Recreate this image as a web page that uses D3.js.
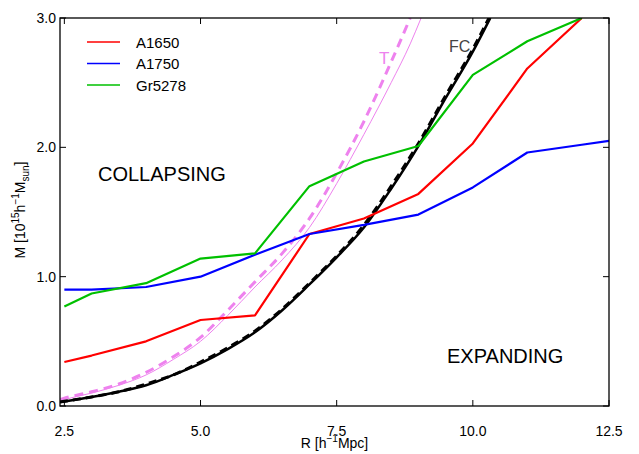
<!DOCTYPE html>
<html>
<head>
<meta charset="utf-8">
<script src="https://cdn.jsdelivr.net/npm/d3@7"></script>
<style>
  body { margin: 0; background: #fff; }
  text { font-family: "Liberation Sans", Arial, sans-serif; }
</style>
</head>
<body>
<div id="app"></div>
<script>
// R values of the cluster profiles
const clusterR = [2.5, 3, 4, 5, 6, 7, 8, 9, 10, 11, 12, 12.5]
// mass profiles [10^15 h^-1 Msun]
const a1650 = [0.34, 0.39, 0.50, 0.665, 0.70, 1.33, 1.45, 1.64, 2.03, 2.61, 3.0, null]
const a1750 = [0.90, 0.90, 0.92, 1.0, 1.17, 1.33, 1.40, 1.48, 1.69, 1.96, 2.02, 2.05]
const gr5278 = [0.77, 0.87, 0.95, 1.14, 1.18, 1.70, 1.89, 2.01, 2.56, 2.82, 3.0, null]

// FC and T model curves
const fcR = [2.42, 2.5, 3, 3.5, 4, 4.5, 5, 5.5, 6, 6.5, 7, 7.5, 8, 8.5, 9, 9.5, 10, 10.32]
const fcSolid = [0.03, 0.035, 0.07, 0.11, 0.16, 0.24, 0.33, 0.44, 0.57, 0.74, 0.94, 1.15, 1.38, 1.68, 2.01, 2.38, 2.74, 3.0]
const fcDashed = [0.03, 0.036, 0.07, 0.11, 0.17, 0.24, 0.34, 0.45, 0.58, 0.75, 0.95, 1.16, 1.40, 1.70, 2.03, 2.40, 2.76, 3.02]
const tR = [2.42, 2.5, 3, 3.5, 4, 4.5, 5, 5.5, 6, 6.5, 7, 7.5, 8, 8.5, 8.85, 9.05]
const tDashed = [0.05, 0.06, 0.11, 0.17, 0.26, 0.38, 0.53, 0.74, 0.96, 1.18, 1.45, 1.80, 2.20, 2.66, 3.0, null]
const tThin = [0.04, 0.05, 0.10, 0.16, 0.24, 0.36, 0.50, 0.70, 0.92, 1.13, 1.38, 1.72, 2.10, 2.50, 2.80, 3.0]

const xTicks = [2.5, 5.0, 7.5, 10.0, 12.5]
const yTicks = [0.0, 1.0, 2.0, 3.0]
const legendNames = ['A1650', 'A1750', 'Gr5278']
const seriesColors = ['#ff0000', '#0000ff', '#00c000']

async function main() {
  const width = 639
  const height = 454
  const left = 60, right = 609, top = 18, bottom = 406

  const svg = d3.select('#app')
    .append('svg')
    .attr('width', width)
    .attr('height', height)

  // scales
  const x = d3.scaleLinear().domain([2.42, 12.5]).range([left, right])
  const y = d3.scaleLinear().domain([0, 3]).range([bottom, top])

  // clip lines to the axes box
  svg.append('clipPath').attr('id', 'clip')
    .append('rect')
    .attr('x', left).attr('y', top)
    .attr('width', right - left).attr('height', bottom - top)

  const plot = svg.append('g').attr('clip-path', 'url(#clip)')

  const line = (xs, ys) => d3.line()
    .defined((d, i) => ys[i] != null)
    .x((d, i) => x(xs[i]))
    .y((d, i) => y(ys[i]))(xs)

  const smooth = (xs, ys) => d3.line()
    .defined((d, i) => ys[i] != null)
    .curve(d3.curveMonotoneX)
    .x((d, i) => x(xs[i]))
    .y((d, i) => y(ys[i]))(xs)

  // T curves (violet)
  plot.append('path')
    .attr('d', smooth(tR, tThin))
    .attr('fill', 'none')
    .attr('stroke', '#ee82ee')
    .attr('stroke-width', 1)
  plot.append('path')
    .attr('d', smooth(tR, tDashed))
    .attr('fill', 'none')
    .attr('stroke', '#ee82ee')
    .attr('stroke-width', 3)
    .attr('stroke-dasharray', '9,6')

  // FC curves (black)
  plot.append('path')
    .attr('d', smooth(fcR, fcSolid))
    .attr('fill', 'none')
    .attr('stroke', '#000')
    .attr('stroke-width', 2.5)
  plot.append('path')
    .attr('d', smooth(fcR, fcDashed))
    .attr('fill', 'none')
    .attr('stroke', '#000')
    .attr('stroke-width', 3)
    .attr('stroke-dasharray', '8,5')

  // cluster profiles
  const series = [a1650, a1750, gr5278]
  series.forEach((ys, i) => {
    plot.append('path')
      .attr('d', line(clusterR, ys))
      .attr('fill', 'none')
      .attr('stroke', seriesColors[i])
      .attr('stroke-width', 2.2)
      .attr('stroke-linejoin', 'round')
  })

  // frame
  svg.append('rect')
    .attr('x', left).attr('y', top)
    .attr('width', right - left).attr('height', bottom - top)
    .attr('fill', 'none')
    .attr('stroke', '#000')
    .attr('stroke-width', 1.3)

  // ticks (inward on all four sides)
  const tickLen = 6
  xTicks.forEach((t) => {
    svg.append('line').attr('x1', x(t)).attr('x2', x(t))
      .attr('y1', bottom).attr('y2', bottom - tickLen).attr('stroke', '#000')
    svg.append('line').attr('x1', x(t)).attr('x2', x(t))
      .attr('y1', top).attr('y2', top + tickLen).attr('stroke', '#000')
    svg.append('text')
      .attr('x', x(t)).attr('y', 436)
      .attr('text-anchor', 'middle')
      .attr('font-size', 14)
      .text(t.toFixed(1))
  })
  yTicks.forEach((t) => {
    svg.append('line').attr('x1', left).attr('x2', left + tickLen)
      .attr('y1', y(t)).attr('y2', y(t)).attr('stroke', '#000')
    svg.append('line').attr('x1', right).attr('x2', right - tickLen)
      .attr('y1', y(t)).attr('y2', y(t)).attr('stroke', '#000')
    svg.append('text')
      .attr('x', 56).attr('y', y(t) + 5)
      .attr('text-anchor', 'end')
      .attr('font-size', 14)
      .text(t.toFixed(1))
  })

  // axis labels
  const xl = svg.append('text')
    .attr('x', (left + right) / 2).attr('y', 448)
    .attr('text-anchor', 'middle')
    .attr('font-size', 14)
  xl.append('tspan').text('R [h')
  xl.append('tspan').attr('dy', -6).attr('font-size', 10).text('\u22121')
  xl.append('tspan').attr('dy', 6).text('Mpc]')

  const yl = svg.append('text')
    .attr('transform', 'translate(25,210) rotate(-90)')
    .attr('text-anchor', 'middle')
    .attr('font-size', 14)
  yl.append('tspan').text('M [10')
  yl.append('tspan').attr('dy', -6).attr('font-size', 10).text('15')
  yl.append('tspan').attr('dy', 6).text('h')
  yl.append('tspan').attr('dy', -6).attr('font-size', 10).text('\u22121')
  yl.append('tspan').attr('dy', 6).text('M')
  yl.append('tspan').attr('dy', 4).attr('font-size', 10).text('sun')
  yl.append('tspan').attr('dy', -4).text(']')

  // region annotations
  svg.append('text').attr('x', 98).attr('y', 181)
    .attr('font-size', 20).text('COLLAPSING')
  svg.append('text').attr('x', 447).attr('y', 363)
    .attr('font-size', 20).text('EXPANDING')
  svg.append('text').attr('x', 379).attr('y', 64)
    .attr('font-size', 17).attr('fill', '#ee82ee').text('T')
  svg.append('text').attr('x', 449).attr('y', 52)
    .attr('font-size', 16).attr('fill', '#444').text('FC')

  // legend
  const legend = svg.append('g')
  legendNames.forEach((name, i) => {
    const ly = 42 + i * 21.5
    legend.append('line')
      .attr('x1', 87).attr('x2', 120)
      .attr('y1', ly).attr('y2', ly)
      .attr('stroke', seriesColors[i])
      .attr('stroke-width', 1.5)
    legend.append('text')
      .attr('x', 136).attr('y', ly + 5.5)
      .attr('font-size', 15)
      .text(name)
  })
}

main()
</script>
</body>
</html>
